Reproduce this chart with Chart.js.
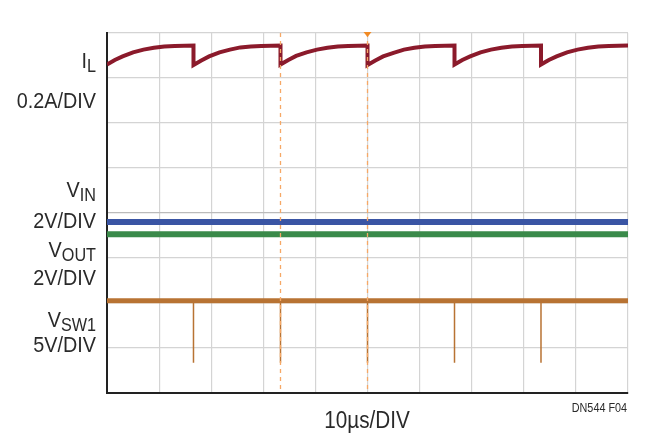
<!DOCTYPE html>
<html><head><meta charset="utf-8">
<script src="https://cdn.jsdelivr.net/npm/chart.js@4/dist/chart.umd.min.js"></script>
<style>html,body{margin:0;padding:0;background:#fff}#w{width:655px;height:447px}</style>
</head><body><div id="w"><canvas id="c" width="655" height="447"></canvas></div>
<script>
// time in µs, values in divisions (0 = bottom of screen, 8 = top)
const tIL = [0,1.5,3,5,7,9,11,13,16.6, 16.6,18.1,19.6,21.6,23.6,25.6,27.6,29.6,33.3, 33.3,34.8,36.3,38.3,40.3,42.3,44.3,46.3,50.0, 50.0,51.5,53,55,57,59,61,63,66.7, 66.7,68.2,69.7,71.7,73.7,75.7,77.7,79.7,83.3, 83.3,84.8,86.3,88.3,90.3,92.3,94.3,96.3,100];
const vIL = [7.30,7.40,7.48,7.57,7.63,7.67,7.70,7.71,7.72, 7.29,7.39,7.48,7.57,7.63,7.68,7.70,7.71,7.72, 7.30,7.40,7.49,7.57,7.63,7.67,7.70,7.71,7.72, 7.29,7.39,7.48,7.56,7.63,7.67,7.70,7.71,7.72, 7.30,7.40,7.48,7.57,7.63,7.67,7.70,7.71,7.72, 7.30,7.40,7.48,7.57,7.63,7.67,7.70,7.71,7.72];
const tFlat = [0,100];
const vVIN = [3.80,3.80];
const vVOUT = [3.53,3.53];
const vSW = [2.05,2.05];
const tSpike = [16.6,33.3,50.0,66.7,83.3];
const vSpikeTop = 2.05, vSpikeBottom = 0.67;
const cursors = [33.3,50.0];

const pts=(t,v)=>t.map((x,i)=>({x,y:v[i]}));
const spikeData=[];tSpike.forEach(t=>{spikeData.push({x:t,y:vSpikeTop},{x:t,y:vSpikeBottom},{x:t,y:null});});

const FONT='"Liberation Sans",Arial,sans-serif';
const SX=0.9;
const textPlugin={id:'txt',afterDraw(ch){
 const c=ch.ctx,a=ch.chartArea;c.save();
 c.strokeStyle='#f6a866';c.lineWidth=1.3;c.setLineDash([4,4]);
 cursors.forEach(t=>{const x=ch.scales.x.getPixelForValue(t);c.beginPath();c.moveTo(x,a.top);c.lineTo(x,a.bottom);c.stroke();});
 c.setLineDash([]);
 const mx=ch.scales.x.getPixelForValue(50);c.fillStyle='#f08a24';c.beginPath();c.moveTo(mx-4,a.top-1);c.lineTo(mx+4,a.top-1);c.lineTo(mx,a.top+4);c.fill();
 c.fillStyle='#2a2a2a';c.textBaseline='alphabetic';
 const txt=(s,x,y,size,align)=>{c.save();c.translate(x,y);c.scale(SX,1);c.font=size+'px '+FONT;c.textAlign=align;c.fillText(s,0,0);const w=c.measureText(s).width*SX;c.restore();return w;};
 const lab=(main,sub,y)=>{let subW=0;if(sub){subW=txt(sub,96,y+4,18,'right');}txt(main,96-subW,y,22,'right');};
 lab('I','L',68);lab('0.2A/DIV','',108);
 lab('V','IN',197);lab('2V/DIV','',228);
 lab('V','OUT',257);lab('2V/DIV','',285);
 lab('V','SW1',327);lab('5V/DIV','',352);
 txt('10µs/DIV',367,428,23,'center');
 txt('DN544 F04',627,412,12,'right');
 c.restore();}};

new Chart(document.getElementById('c'),{type:'line',
 data:{datasets:[
  {data:pts(tIL,vIL),borderColor:'#8b1a2b',borderWidth:4},
  {data:pts(tFlat,vVIN),borderColor:'#3a55a4',borderWidth:6},
  {data:pts(tFlat,vVOUT),borderColor:'#3a8a4a',borderWidth:6},
  {data:pts(tFlat,vSW),borderColor:'#b87333',borderWidth:5},
  {data:spikeData,borderColor:'#b87333',borderWidth:1.5,spanGaps:false}
 ]},
 options:{responsive:false,animation:false,events:[],
  layout:{padding:{left:107,top:33,right:27,bottom:54}},
  elements:{point:{radius:0},line:{tension:0,borderCapStyle:'butt'}},
  plugins:{legend:{display:false},tooltip:{enabled:false}},
  scales:{
   x:{type:'linear',min:0,max:100,ticks:{display:false,stepSize:10},
      grid:{color:'#d4d4d4',lineWidth:1.2,drawTicks:false},border:{color:'#222',width:2}},
   y:{min:0,max:8,ticks:{display:false,stepSize:1},
      grid:{color:c=>c.tick.value===4?'#bbb':'#d4d4d4',lineWidth:1.2,drawTicks:false},border:{color:'#222',width:2}}
  }}, plugins:[textPlugin]});
</script></body></html>
